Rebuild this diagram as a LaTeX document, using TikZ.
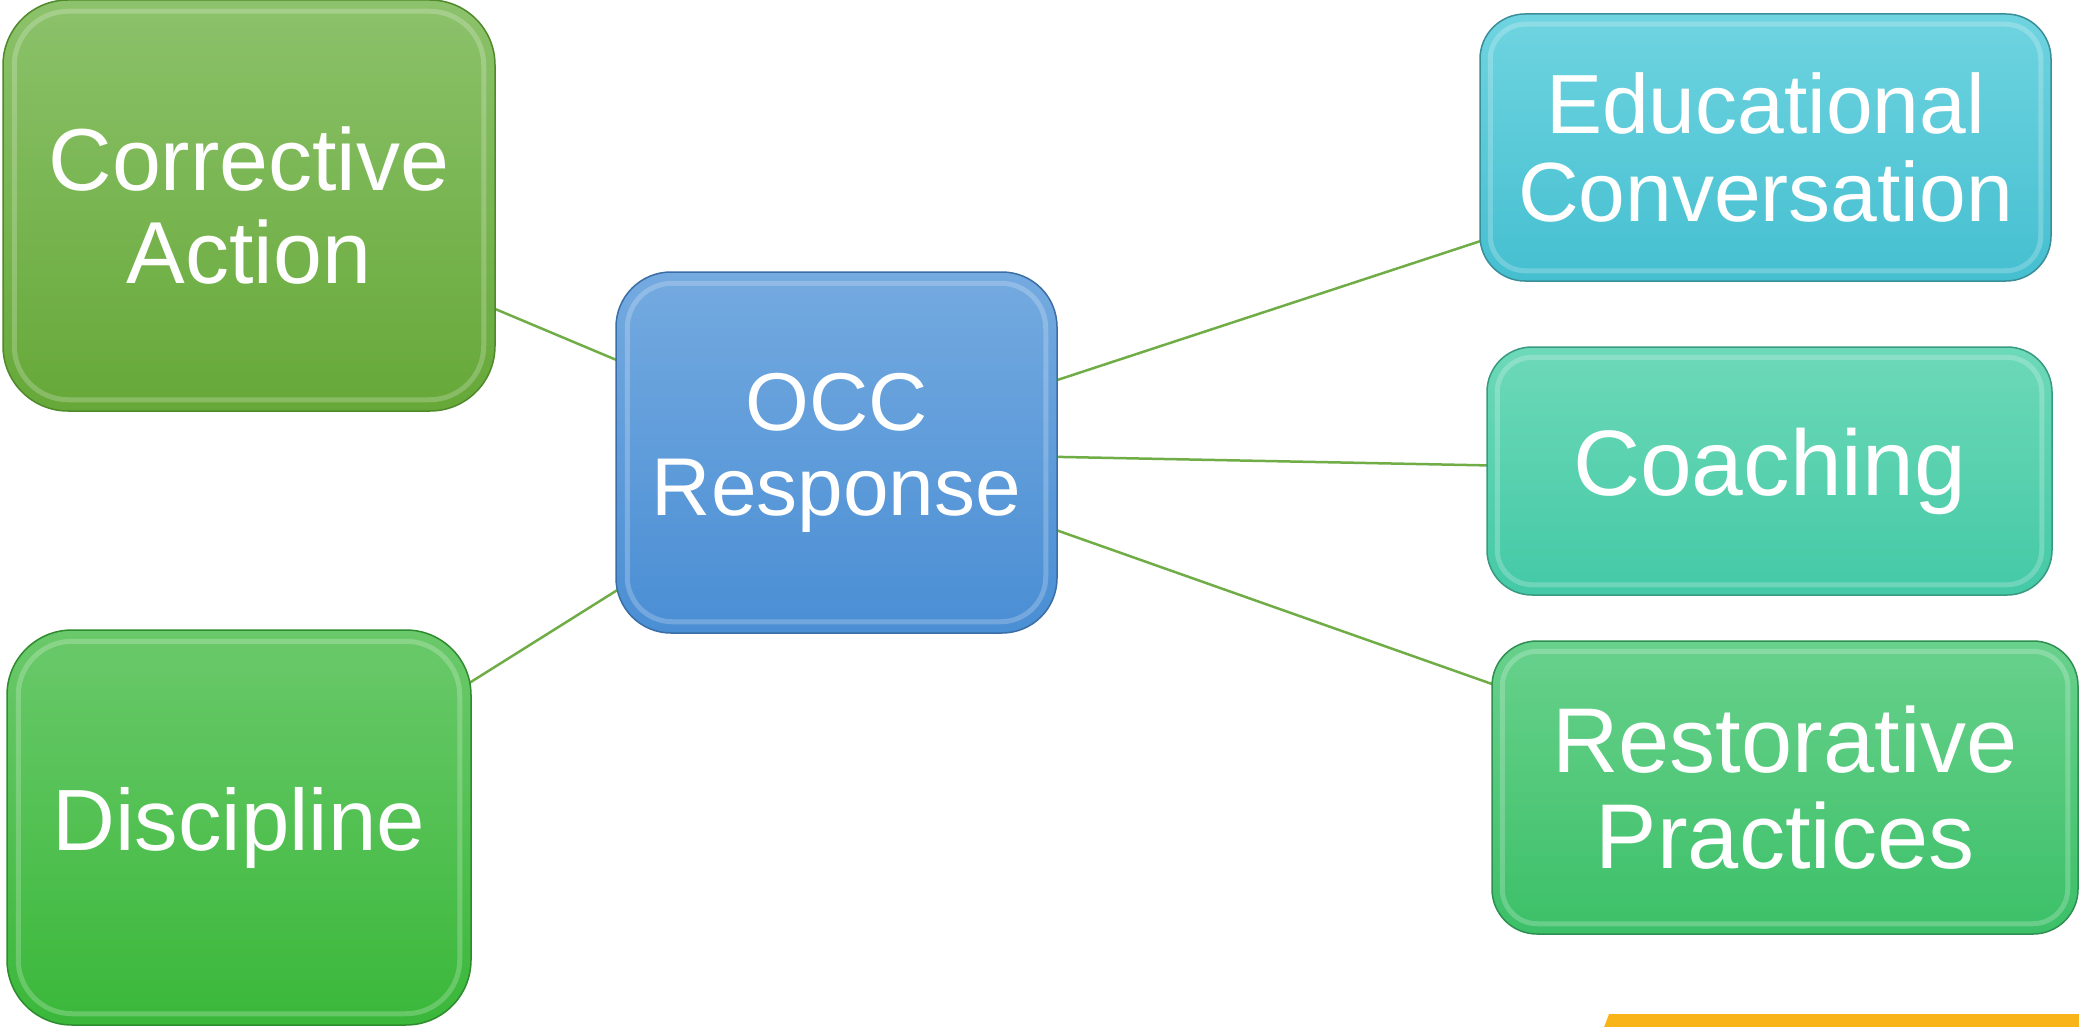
\documentclass[tikz,border=0pt]{standalone}
\usepackage{fontspec}
\setmainfont{Liberation Sans}
\usetikzlibrary{backgrounds}
\definecolor{cortop}{HTML}{8CC26B}
\definecolor{corbot}{HTML}{66A838}
\definecolor{cordraw}{HTML}{4E8A2A}
\definecolor{distop}{HTML}{6AC96A}
\definecolor{disbot}{HTML}{3AB83A}
\definecolor{disdraw}{HTML}{2E8B2E}
\definecolor{occtop}{HTML}{74AAE0}
\definecolor{occbot}{HTML}{4A8ED4}
\definecolor{occdraw}{HTML}{3A6EA5}
\definecolor{edutop}{HTML}{6FD4E0}
\definecolor{edubot}{HTML}{45BFD0}
\definecolor{edudraw}{HTML}{3A8E9A}
\definecolor{coatop}{HTML}{6DD9B8}
\definecolor{coabot}{HTML}{44C9A6}
\definecolor{coadraw}{HTML}{389A80}
\definecolor{restop}{HTML}{68D18C}
\definecolor{resbot}{HTML}{3CC068}
\definecolor{resdraw}{HTML}{2E8F50}
\definecolor{linkgreen}{HTML}{70AD47}
\definecolor{barorange}{HTML}{F9B418}
\begin{document}
\begin{tikzpicture}[x=1pt,y=-1pt,
  bx/.style={draw, line width=1.5pt, inner sep=0pt, align=center, text=white},
  hl/.style={draw=white, draw opacity=0.22, line width=5pt},
  link/.style={draw=linkgreen, line width=2.5pt}]
\useasboundingbox (0,0) rectangle (2079,1027);

\node[bx, rounded corners=65pt, minimum width=492pt, minimum height=411pt,
      top color=cortop, bottom color=corbot, draw=cordraw,
      font=\fontsize{88}{93}\selectfont] (cor) at (249,205.5) {Corrective\\Action};
\node[bx, rounded corners=65pt, minimum width=464pt, minimum height=395pt,
      top color=distop, bottom color=disbot, draw=disdraw,
      font=\fontsize{87}{92}\selectfont] (dis) at (239,827.5) {Discipline};
\node[bx, rounded corners=55pt, minimum width=441pt, minimum height=361pt,
      top color=occtop, bottom color=occbot, draw=occdraw,
      font=\fontsize{82}{85}\selectfont] (occ) at (836.5,452.5) {OCC\\Response};
\node[bx, rounded corners=45pt, minimum width=571pt, minimum height=267pt,
      top color=edutop, bottom color=edubot, draw=edudraw,
      font=\fontsize{84}{88}\selectfont] (edu) at (1765.5,147.5) {Educational\\Conversation};
\node[bx, rounded corners=45pt, minimum width=565pt, minimum height=248pt,
      top color=coatop, bottom color=coabot, draw=coadraw,
      font=\fontsize{93}{96}\selectfont] (coa) at (1769.5,471) {Coaching};
\node[bx, rounded corners=45pt, minimum width=586pt, minimum height=293pt,
      top color=restop, bottom color=resbot, draw=resdraw,
      font=\fontsize{92}{96}\selectfont] (res) at (1785,787.5) {Restorative\\Practices};

\draw[hl, rounded corners=54pt] ([shift={(12,12)}]cor.north west) rectangle ([shift={(-12,-12)}]cor.south east);
\draw[hl, rounded corners=54pt] ([shift={(12,12)}]dis.north west) rectangle ([shift={(-12,-12)}]dis.south east);
\draw[hl, rounded corners=45pt] ([shift={(12,12)}]occ.north west) rectangle ([shift={(-12,-12)}]occ.south east);
\draw[hl, rounded corners=35pt] ([shift={(11,11)}]edu.north west) rectangle ([shift={(-11,-11)}]edu.south east);
\draw[hl, rounded corners=35pt] ([shift={(11,11)}]coa.north west) rectangle ([shift={(-11,-11)}]coa.south east);
\draw[hl, rounded corners=35pt] ([shift={(11,11)}]res.north west) rectangle ([shift={(-11,-11)}]res.south east);

\fill[fill=barorange] (1609,1014) -- (2079,1014) -- (2079,1030) -- (1603,1030) -- cycle;

\begin{scope}[on background layer]
\fill[white] (0,0) rectangle (2079,1027);
\draw[link] (cor.center) -- (occ.center);
\draw[link] (dis.center) -- (occ.center);
\draw[link] (occ.center) -- (edu.center);
\draw[link] (occ.center) -- (coa.center);
\draw[link] (occ.center) -- (res.center);
\end{scope}
\end{tikzpicture}
\end{document}
